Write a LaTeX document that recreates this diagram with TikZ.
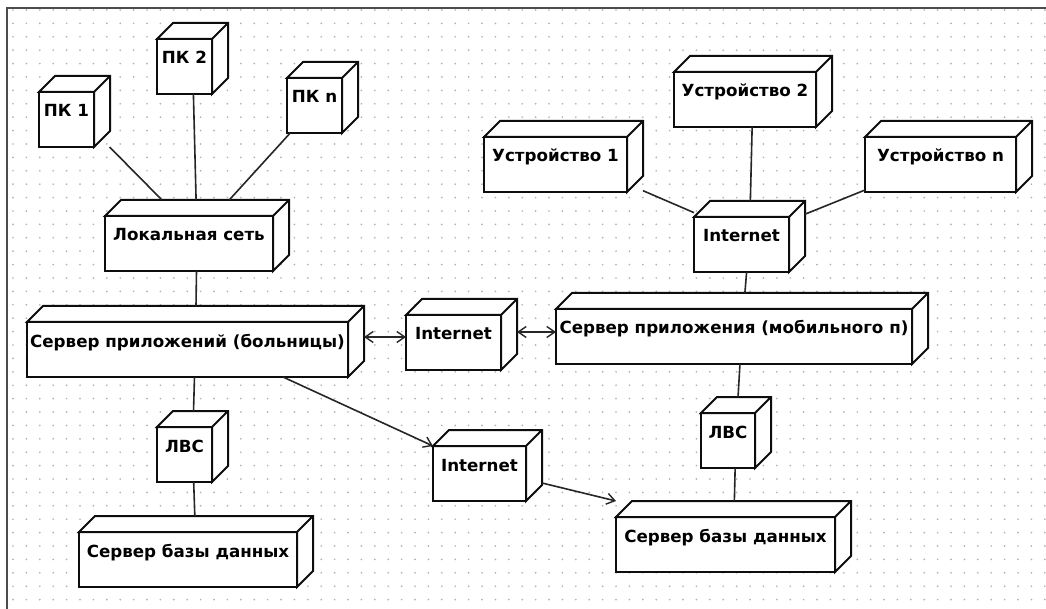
\documentclass[tikz,border=0pt]{standalone}
\usepackage{fontspec}
\setmainfont{DejaVu Sans}
\usetikzlibrary{arrows.meta}
\pgfdeclarelayer{grid}
\pgfdeclarelayer{boxes}
\pgfsetlayers{grid,boxes,main}
% depth of the extruded node boxes
\def\bxd{16pt}
\newcommand\drawbox[1]{%
  \draw[boxline, fill=white] ([yshift=-\bxd]#1.north west) rectangle ([xshift=-\bxd]#1.south east);
  \draw[boxline, fill=white]
    ([yshift=-\bxd]#1.north west) -- ([xshift=\bxd]#1.north west) -- (#1.north east)
    -- ([yshift=\bxd]#1.south east) -- ([xshift=-\bxd]#1.south east)
    -- ([shift={(-\bxd,-\bxd)}]#1.north east) -- cycle
    ([shift={(-\bxd,-\bxd)}]#1.north east) -- (#1.north east);
}
\tikzset{
  boxline/.style={line width=2pt, draw=black!95, line join=miter},
  box/.style={rectangle, inner sep=0pt, outer sep=0pt, anchor=north west,
    minimum width=#1, minimum height=71pt,
    text height=41pt, text depth=30pt,
    font=\bfseries\fontsize{16.7}{18}\selectfont,
    execute at end node={\hspace*{\bxd}}},
  conn/.style={line width=1.6pt, draw=black!85},
  arr/.style={conn, -{Straight Barb[length=8pt,width=11pt,line width=1.4pt]}},
  dblarr/.style={conn, {Straight Barb[length=8pt,width=11pt,line width=1.4pt]}-{Straight Barb[length=8pt,width=11pt,line width=1.4pt]}},
}
\begin{document}
\begin{tikzpicture}[x=1pt, y=-1pt]
\useasboundingbox (0,0) rectangle (1046,609);

% paper, dotted drawing grid and frame
\begin{pgfonlayer}{grid}
  \fill[white] (0,0) rectangle (1046,609);
  \foreach \i in {0,...,77} {
    \foreach \j in {0,...,44} {
      \fill[gray!60] ({13+13.4*\i},{10+13.4*\j}) circle (0.95pt);
    }
  }
  \draw[black!70, line width=2pt] (7,609) -- (7,8) -- (1046,8);
\end{pgfonlayer}

% hospital side
\node[box=71pt]  (pc1)  at (39,76)   {ПК 1};
\node[box=71pt]  (pc2)  at (157,23)  {ПК 2};
\node[box=71pt]  (pcn)  at (287,62)  {ПК n};
\node[box=184pt] (lan)  at (105,200) {Локальная сеть};
\node[box=337pt] (hosp) at (27,306)  {Сервер приложений (больницы)};
\node[box=71pt]  (lvsl) at (157,411) {ЛВС};
\node[box=234pt] (dbl)  at (79,516)  {Сервер базы данных};

% links between the two sides
\node[box=111pt] (inetm) at (406,299) {Internet};
\node[box=109pt] (inetb) at (433,430) {Internet};

% mobile side
\node[box=159pt] (dev1)  at (484,121) {Устройство 1};
\node[box=158pt] (dev2)  at (674,56)  {Устройство 2};
\node[box=167pt] (devn)  at (865,121) {Устройство n};
\node[box=111pt] (inett) at (694,201) {Internet};
\node[box=372pt] (mob)   at (556,293) {Сервер приложения (мобильного п)};
\node[box=70pt]  (lvsr)  at (701,397) {ЛВС};
\node[box=235pt] (dbr)   at (616,501) {Сервер базы данных};

\begin{pgfonlayer}{boxes}
  \foreach \n in {pc1,pc2,pcn,lan,hosp,lvsl,dbl,inetm,inetb,dev1,dev2,devn,inett,mob,lvsr,dbr}
    {\drawbox{\n}}
\end{pgfonlayer}

% plain links
\draw[conn] (pc1) -- (lan);
\draw[conn] (pc2) -- (lan);
\draw[conn] (pcn) -- (lan);
\draw[conn] (lan) -- (hosp);
\draw[conn] (hosp) -- (lvsl);
\draw[conn] (lvsl) -- (dbl);
\draw[conn] (dev1) -- (inett);
\draw[conn] (dev2) -- (inett);
\draw[conn] (devn) -- (inett);
\draw[conn] (inett) -- (mob);
\draw[conn] (mob) -- (lvsr);
\draw[conn] (lvsr) -- (dbr);

% directed links
\draw[dblarr] ([yshift=4.5pt]hosp.east) -- ([yshift=4.5pt]hosp.east -| inetm.west);
\draw[dblarr] ([yshift=2.5pt]inetm.east) -- ([yshift=2.5pt]inetm.east -| mob.west);
\draw[arr] ([xshift=87.5pt]hosp.south) -- ([yshift=-\bxd]inetb.north west);
\draw[arr] ([yshift=-17.5pt]inetb.east) -- (dbr.north west);
\end{tikzpicture}
\end{document}
